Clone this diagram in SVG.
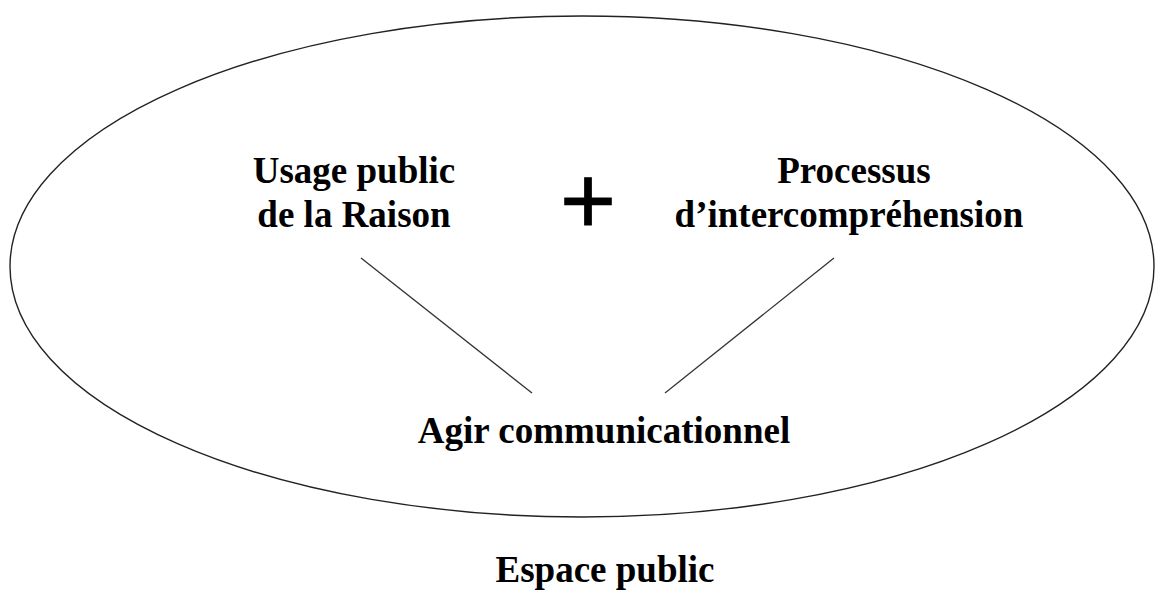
<svg xmlns="http://www.w3.org/2000/svg" width="1156" height="590" viewBox="0 0 1156 590">
<style>
.lbl{font-family:"Liberation Serif","Times New Roman",serif;font-weight:bold;font-size:37px;fill:#000;text-anchor:middle}
.plus{font-family:"Liberation Sans",Arial,sans-serif;font-size:96px;fill:#000;stroke:#000;stroke-width:0.8;text-anchor:middle}
.edge{stroke:#333;stroke-width:1.3;fill:none}
</style>
<rect width="1156" height="590" fill="#fff"/>
<g id="espace-public">
<ellipse cx="582" cy="266.5" rx="572" ry="250.5" fill="none" stroke="#222" stroke-width="1.4"/>
<text class="lbl" x="605" y="582">Espace public</text>
</g>
<g id="usage">
<text class="lbl" x="354" y="183">Usage public</text>
<text class="lbl" x="354" y="227">de la Raison</text>
</g>
<g id="plus">
<text class="plus" x="588" y="234">+</text>
</g>
<g id="processus">
<text class="lbl" x="854" y="183">Processus</text>
<text class="lbl" x="849" y="227">d’intercompréhension</text>
</g>
<g id="agir">
<text class="lbl" x="604" y="443">Agir communicationnel</text>
</g>
<g id="connectors">
<line class="edge" x1="361" y1="258" x2="532" y2="393"/>
<line class="edge" x1="834" y1="258" x2="665" y2="393"/>
</g>
</svg>
